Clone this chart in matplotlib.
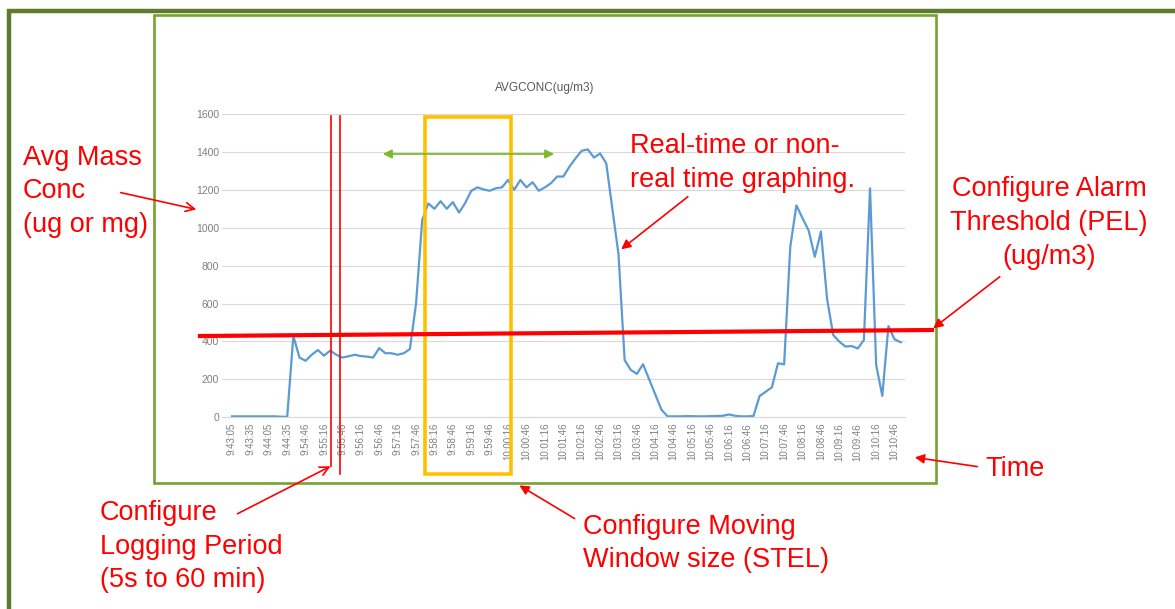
import numpy as np
import matplotlib
matplotlib.use('Agg')
import matplotlib.pyplot as plt
from matplotlib.patches import Rectangle

plt.rcParams['font.family'] = ['Liberation Sans', 'DejaVu Sans']

# AVGCONC (ug/m3), one sample every 10 s
conc = [5, 5, 5, 5, 5, 5, 5, 5, 3, 3,
        430, 315, 298, 330, 355, 325, 352, 330, 315, 322,
        330, 323, 320, 315, 365, 338, 338, 330, 338, 360,
        600, 1040, 1128, 1100, 1140, 1100, 1135, 1080, 1130, 1195,
        1213, 1202, 1195, 1208, 1213, 1252, 1200, 1252, 1213, 1240,
        1195, 1213, 1235, 1270, 1270, 1322, 1366, 1406, 1413, 1370,
        1392, 1340, 1100, 860, 302, 250, 229, 280, 200, 120,
        40, 5, 5, 5, 6, 6, 5, 5, 6, 7,
        8, 15, 8, 5, 5, 7, 112, 135, 158, 285,
        279, 900, 1118, 1050, 985, 847, 980, 624, 434, 399,
        373, 376, 363, 408, 1208, 276, 113, 481, 411, 396]

# every 3rd sample gets a label
tick_labels = ['9:43:05', '9:43:35', '9:44:05', '9:44:35', '9:54:46', '9:55:16',
               '9:55:46', '9:56:16', '9:56:46', '9:57:16', '9:57:46', '9:58:16',
               '9:58:46', '9:59:16', '9:59:46', '10:00:16', '10:00:46', '10:01:16',
               '10:01:46', '10:02:16', '10:02:46', '10:03:16', '10:03:46', '10:04:16',
               '10:04:46', '10:05:16', '10:05:46', '10:06:16', '10:06:46', '10:07:16',
               '10:07:46', '10:08:16', '10:08:46', '10:09:16', '10:09:46', '10:10:16',
               '10:10:46']
y_ticks = [0, 200, 400, 600, 800, 1000, 1200, 1400, 1600]

W, H = 1175, 609
fig = plt.figure(figsize=(W / 100, H / 100), dpi=100)
fig.patch.set_facecolor('white')

# chart itself (pixel box of the plot area)
x0, x1, ytop, ybot = 222, 905, 114, 417.3
ax = fig.add_axes([x0 / W, (H - ybot) / H, (x1 - x0) / W, (ybot - ytop) / H])
x = np.arange(len(conc))
ax.plot(x, conc, color='#5B9BD5', lw=1.6, solid_joinstyle='round')
ax.set_xlim(-1.63, 109.7)
ax.set_ylim(0, 1600)
ax.set_yticks(y_ticks)
ax.set_yticklabels([str(v) for v in y_ticks])
ax.set_xticks(x[::3])
ax.set_xticklabels(tick_labels, rotation=90)
ax.tick_params(axis='both', length=0, colors='#7f7f7f')
ax.tick_params(axis='x', labelsize=7, pad=4)
ax.tick_params(axis='y', labelsize=7.5, pad=2)
ax.grid(axis='y', color='#d9d9d9', lw=0.8)
ax.set_axisbelow(True)
for s in ['top', 'right', 'left']:
    ax.spines[s].set_visible(False)
ax.spines['bottom'].set_color('#d9d9d9')
ax.spines['bottom'].set_linewidth(0.8)

# overlay in pixel coordinates for frames and callouts
ov = fig.add_axes([0, 0, 1, 1], zorder=5)
ov.set_xlim(0, W)
ov.set_ylim(H, 0)
ov.axis('off')
ov.patch.set_alpha(0)

ov.add_patch(Rectangle((154, 14.5), 781.5, 468.5, fill=False, ec='#78A22F', lw=1.9))
ov.plot([7, W], [11, 11], color='#5E7A2B', lw=3.2, solid_capstyle='butt')
ov.plot([8.7, 8.7], [9, H], color='#5E7A2B', lw=3.2, solid_capstyle='butt')

ov.text(545, 88, 'AVGCONC(ug/m3)', ha='center', va='center', fontsize=8.5, color='#595959')

red = '#FF0000'
ov.plot([200, 932], [336, 330], color=red, lw=3)
ov.plot([331, 331], [116, 466], color=red, lw=1.2)
ov.plot([340, 340], [116, 474], color=red, lw=1.2)
ov.add_patch(Rectangle((425, 117), 85.5, 357, fill=False, ec='#FFC000', lw=2.6))
ov.annotate('', xy=(380, 154), xytext=(557, 154),
            arrowprops=dict(arrowstyle='<|-|>', color='#7FBA2C', lw=1.3, mutation_scale=13))

fs = 19.5


def lines(xp, ys, rows, ha='left'):
    for yy, t in zip(ys, rows):
        ov.text(xp, yy, t, ha=ha, va='center', fontsize=fs, color=red)


lines(23, [158, 191, 225], ['Avg Mass', 'Conc', '(ug or mg)'])
lines(630, [146, 180], ['Real-time or non-', 'real time graphing.'])
lines(1049, [189, 223, 257], ['Configure Alarm', 'Threshold (PEL)', '(ug/m3)'], ha='center')
lines(985, [469], ['Time'])
lines(100, [513, 547, 580], ['Configure', 'Logging Period', '(5s to 60 min)'])
lines(583, [527, 560], ['Configure Moving', 'Window size (STEL)'])

open_head = dict(arrowstyle='->', color=red, lw=1.2, mutation_scale=16)
full_head = dict(arrowstyle='-|>', color=red, lw=1.2, mutation_scale=14)
ov.annotate('', xy=(199, 210), xytext=(118, 192), arrowprops=open_head)
ov.annotate('', xy=(333, 465), xytext=(235, 515), arrowprops=open_head)
ov.annotate('', xy=(619, 251), xytext=(690, 195), arrowprops=full_head)
ov.annotate('', xy=(931, 330), xytext=(1002, 275), arrowprops=full_head)
ov.annotate('', xy=(912, 457), xytext=(980, 467), arrowprops=full_head)
ov.annotate('', xy=(517, 484), xytext=(577, 520), arrowprops=full_head)

fig.savefig('out.png', dpi=100)
